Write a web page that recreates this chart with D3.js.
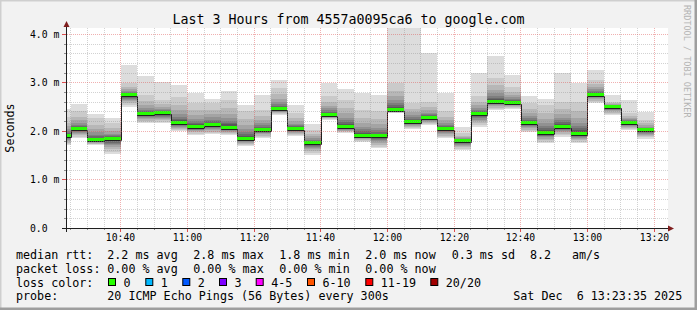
<!DOCTYPE html>
<html>
<head>
<meta charset="utf-8">
<script src="https://cdn.jsdelivr.net/npm/d3@7"></script>
<style>
  body { margin: 0; background: #f2f2f2; }
  text { font-family: "DejaVu Sans Mono", monospace; white-space: pre; }
</style>
</head>
<body>
<svg id="chart" width="697" height="310"></svg>
<script>
// smokeping: 20 pings every 300s, one step every 5 minutes starting 10:20
var stepStart = new Date(2025, 11, 6, 10, 20, 0);
var graphStart = new Date(2025, 11, 6, 10, 23, 35);
var graphEnd = new Date(2025, 11, 6, 13, 23, 35);

// values in ms, one per step
var medianRtt = [1.90, 2.04, 1.81, 1.83, 2.74, 2.34, 2.36, 2.16, 2.08, 2.12, 2.07, 1.83,
                 2.01, 2.45, 2.04, 1.75, 2.33, 2.08, 1.90, 1.89, 2.44, 2.19, 2.26, 2.03,
                 1.79, 2.34, 2.60, 2.58, 2.16, 1.95, 2.09, 1.94, 2.75, 2.49, 2.17, 2.01];
var minRtt    = [1.70, 1.85, 1.71, 1.53, 2.50, 2.16, 2.16, 1.99, 1.92, 1.93, 1.92, 1.68,
                 1.86, 2.33, 1.90, 1.51, 2.23, 1.95, 1.77, 1.64, 2.36, 2.04, 2.12, 1.85,
                 1.61, 2.09, 2.43, 2.45, 1.97, 1.75, 1.88, 1.75, 2.57, 2.33, 2.02, 1.84];
var maxRtt    = [2.45, 2.55, 2.34, 2.26, 3.36, 3.13, 3.00, 2.95, 2.78, 2.66, 2.82, 2.54,
                 2.74, 3.05, 2.54, 2.14, 2.98, 2.87, 2.78, 2.73, 4.13, 4.12, 3.61, 2.78,
                 2.08, 3.19, 3.55, 3.15, 2.71, 2.65, 3.19, 2.98, 3.26, 2.74, 2.64, 2.39];
// second highest ping (bottom of the lightest top band)
var secondMaxRtt = [2.29, 2.40, 2.26, 2.16, 2.98, 2.74, 2.64, 2.69, 2.57, 2.57, 2.64, 2.41,
                    2.43, 2.88, 2.36, 2.02, 2.71, 2.64, 2.43, 2.40, 2.99, 2.57, 2.60, 2.40,
                    1.95, 2.71, 3.09, 2.91, 2.57, 2.54, 2.60, 2.60, 3.05, 2.60, 2.36, 2.23];

var yTickValues = [0, 1, 2, 3, 4];
var yTickLabels = ["0.0", "1.0 m", "2.0 m", "3.0 m", "4.0 m"];
var yMax = 4.12;

var lossLabels = ["0", "1", "2", "3", "4-5", "6-10", "11-19", "20/20"];
var lossColors = ["#26ff00", "#00b8ff", "#0059ff", "#7e00ff", "#ff00ff", "#ff5500", "#ff0000", "#a10000"];

var rttLegend = ["2.2 ms avg", "2.8 ms max", "1.8 ms min", "2.0 ms now", "0.3 ms sd", "8.2", "am/s"];
var lossLegend = ["0.00 % avg", "0.00 % max", "0.00 % min", "0.00 % now"];
var probeText = "20 ICMP Echo Pings (56 Bytes) every 300s";
var stampText = "Sat Dec  6 13:23:35 2025";

var W = 697, H = 310;
var svg = d3.select("#chart");

// frame, like rrdtool shade A / shade B
svg.append("rect").attr("width", W).attr("height", H).attr("fill", "#f2f2f2");
svg.append("path").attr("d", "M0,309V0H697").attr("fill", "none")
    .attr("stroke", "#cfcfcf").attr("stroke-width", 3);
svg.append("path").attr("d", "M0,309H696V0").attr("fill", "none")
    .attr("stroke", "#9e9e9e").attr("stroke-width", 3);

var x = d3.scaleTime().domain([graphStart, graphEnd]).range([66, 666]);
var y = d3.scaleLinear().domain([0, yMax]).range([228, 28]);

svg.append("rect").attr("x", 67).attr("y", 28).attr("width", 601).attr("height", 200)
    .attr("fill", "#ffffff");

svg.append("defs").append("clipPath").attr("id", "clip")
  .append("rect").attr("x", 67).attr("y", 28).attr("width", 600).attr("height", 200);

// build the 20 sorted pings of each step from min / median / second max / max
var upperFrac = [0.02, 0.06, 0.11, 0.17, 0.25, 0.35, 0.5, 0.7];        // pings 11..18
var lowerFrac = [0.03, 0.08, 0.15, 0.23, 0.32, 0.42, 0.55, 0.7, 0.85];  // pings 10..2

var steps = medianRtt.map(function(m, i) {
  var p = new Array(21);
  p[1] = minRtt[i];
  p[20] = maxRtt[i];
  p[19] = secondMaxRtt[i];
  upperFrac.forEach(function(f, k) { p[11 + k] = m + f * (secondMaxRtt[i] - m); });
  lowerFrac.forEach(function(f, k) { p[10 - k] = m - f * (m - minRtt[i]); });
  return {
    t0: d3.timeMinute.offset(stepStart, 5 * i),
    t1: d3.timeMinute.offset(stepStart, 5 * (i + 1)),
    median: m,
    pings: p
  };
});

var plot = svg.append("g").attr("clip-path", "url(#clip)");

// smoke: outer pair lightest, inner pairs darker
var bands = [];
steps.forEach(function(s) {
  for (var ibot = 1; ibot <= 10; ibot++) {
    var c = Math.floor(190 / 10 * (10 - ibot)) + 50;
    bands.push({t0: s.t0, t1: s.t1, lo: s.pings[ibot], hi: s.pings[21 - ibot],
                color: d3.rgb(c, c, c).formatHex()});
  }
});

plot.selectAll(".smoke").data(bands).enter().append("rect")
    .attr("class", "smoke")
    .attr("x", function(d) { return Math.round(x(d.t0)); })
    .attr("width", function(d) { return Math.round(x(d.t1)) - Math.round(x(d.t0)); })
    .attr("y", function(d) { return Math.round(y(d.hi)); })
    .attr("height", function(d) { return Math.max(1, Math.round(y(d.lo)) - Math.round(y(d.hi))); })
    .attr("fill", function(d) { return d.color; })
    .attr("shape-rendering", "crispEdges");

// grid
var minorY = d3.range(0.2, 4.01, 0.2).filter(function(v) { return Math.abs(v - Math.round(v)) > 0.01; });
var minorX = d3.timeMinute.every(5).range(graphStart, graphEnd).filter(function(t) { return t.getMinutes() % 20 !== 0; });
var majorX = d3.timeMinute.every(20).range(graphStart, graphEnd);

var grid = svg.append("g");
function hLine(v, color, dash) {
  var yy = Math.round(y(v)) + 0.5;
  grid.append("line").attr("x1", 67).attr("x2", 668).attr("y1", yy).attr("y2", yy)
      .attr("stroke", color).attr("stroke-dasharray", dash);
}
function vLine(t, color, dash) {
  var xx = Math.floor(x(t)) + 0.5;
  grid.append("line").attr("x1", xx).attr("x2", xx).attr("y1", 28).attr("y2", 228)
      .attr("stroke", color).attr("stroke-dasharray", dash);
}
minorY.forEach(function(v) { hLine(v, "rgba(143,143,143,0.4)", "1,1"); });
minorX.forEach(function(t) { vLine(t, "rgba(143,143,143,0.4)", "1,1"); });
yTickValues.slice(1).forEach(function(v) { hLine(v, "rgba(222,79,79,0.45)", "1,1"); });
majorX.forEach(function(t) { vLine(t, "rgba(222,79,79,0.45)", "1,1"); });

// ticks outside the axes
minorY.forEach(function(v) {
  var yy = Math.round(y(v)) + 0.5;
  grid.append("line").attr("x1", 64).attr("x2", 67).attr("y1", yy).attr("y2", yy).attr("stroke", "#8f8f8f");
});
yTickValues.forEach(function(v) {
  var yy = Math.round(y(v)) + 0.5;
  grid.append("line").attr("x1", 62).attr("x2", 67).attr("y1", yy).attr("y2", yy).attr("stroke", "#de4f4f");
});
minorX.forEach(function(t) {
  var xx = Math.floor(x(t)) + 0.5;
  grid.append("line").attr("x1", xx).attr("x2", xx).attr("y1", 228).attr("y2", 230).attr("stroke", "#8f8f8f");
});
majorX.forEach(function(t) {
  var xx = Math.floor(x(t)) + 0.5;
  grid.append("line").attr("x1", xx).attr("x2", xx).attr("y1", 228).attr("y2", 232).attr("stroke", "#de4f4f");
});

// median: dark step line, then loss-coloured bar on top
var line = d3.line()
    .curve(d3.curveStepAfter)
    .x(function(d) { return Math.round(x(d.t)) + 0.5; })
    .y(function(d) { return Math.round(y(d.v)) + 1.5; });
var medPts = steps.map(function(s) { return {t: s.t0, v: s.median}; });
medPts.push({t: steps[steps.length - 1].t1, v: steps[steps.length - 1].median});

plot.append("path").datum(medPts)
    .attr("d", line)
    .attr("fill", "none")
    .attr("stroke", "#202020")
    .attr("stroke-width", 1);

plot.selectAll(".med").data(steps).enter().append("rect")
    .attr("class", "med")
    .attr("x", function(d) { return Math.round(x(d.t0)); })
    .attr("width", function(d) { return Math.round(x(d.t1)) - Math.round(x(d.t0)); })
    .attr("y", function(d) { return Math.round(y(d.median)) - 2; })
    .attr("height", 3)
    .attr("fill", lossColors[0])
    .attr("shape-rendering", "crispEdges");

// axes
svg.append("line").attr("x1", 66.5).attr("x2", 66.5).attr("y1", 232).attr("y2", 25)
    .attr("stroke", "#1f1f1f");
svg.append("line").attr("x1", 62).attr("x2", 669).attr("y1", 228.5).attr("y2", 228.5)
    .attr("stroke", "#1f1f1f");
svg.append("path").attr("d", "M66.5,21L63.5,27L69.5,27Z").attr("fill", "#801f1f");
svg.append("path").attr("d", "M674,228.5L668,225.5L668,231.5Z").attr("fill", "#801f1f");

// axis labels
var yAxis = d3.axisLeft(y).tickValues(yTickValues)
    .tickFormat(function(d, i) { return yTickLabels[i]; })
    .tickSize(0);
var gy = svg.append("g").attr("transform", "translate(66,0)").call(yAxis);
gy.select(".domain").remove();
gy.selectAll("text")
    .attr("x", -36).attr("dy", "0.35em")
    .attr("text-anchor", "start")
    .attr("font-family", "DejaVu Sans Mono")
    .attr("font-size", "9.75px").attr("fill", "#000");

var xAxis = d3.axisBottom(x).ticks(d3.timeMinute.every(20))
    .tickFormat(d3.timeFormat("%H:%M"))
    .tickSize(0);
var gx = svg.append("g").attr("transform", "translate(0,228)").call(xAxis);
gx.select(".domain").remove();
gx.selectAll(".tick").attr("transform", function(d) { return "translate(" + (Math.floor(x(d)) + 0.5) + ",0)"; });
gx.selectAll("text")
    .attr("y", 13).attr("dy", 0)
    .attr("font-family", "DejaVu Sans Mono")
    .attr("font-size", "9.75px").attr("fill", "#000");

// title and side texts
svg.append("text").attr("x", 348.5).attr("y", 24).attr("text-anchor", "middle")
    .attr("font-size", "13.3px").attr("fill", "#000")
    .text("Last 3 Hours from 4557a0095ca6 to google.com");
svg.append("text").attr("transform", "translate(14,128) rotate(-90)")
    .attr("text-anchor", "middle").attr("font-size", "11.7px").attr("fill", "#000")
    .text("Seconds");
svg.append("text").attr("transform", "translate(684,5) rotate(90)")
    .attr("font-size", "8.5px").attr("fill", "#b4b4b4")
    .text("RRDTOOL / TOBI OETIKER");

// legend
var legend = svg.append("g").attr("font-size", "11.7px").attr("fill", "#000");
function put(xx, yy, s) { legend.append("text").attr("x", xx).attr("y", yy).text(s); }

var colX = [107.3, 193.3, 279.3, 365.3, 451.7, 530, 572];
put(16, 259, "median rtt:");
rttLegend.forEach(function(s, i) { put(colX[i], 259, s); });
put(16, 272.5, "packet loss:");
lossLegend.forEach(function(s, i) { put(colX[i], 272.5, s); });
put(16, 286.5, "loss color:");
var boxX = [108.5, 145.8, 182.8, 219.5, 256.2, 307.5, 365.8, 430.8];
lossLabels.forEach(function(s, i) {
  legend.append("rect").attr("x", boxX[i]).attr("y", 278.5).attr("width", 7).attr("height", 7)
      .attr("fill", lossColors[i]).attr("stroke", "#000").attr("stroke-width", 1);
  put(boxX[i] + 15, 286.5, s);
});
put(16, 300, "probe:");
put(107.3, 300, probeText);
put(513.3, 300, stampText);
</script>
</body>
</html>
